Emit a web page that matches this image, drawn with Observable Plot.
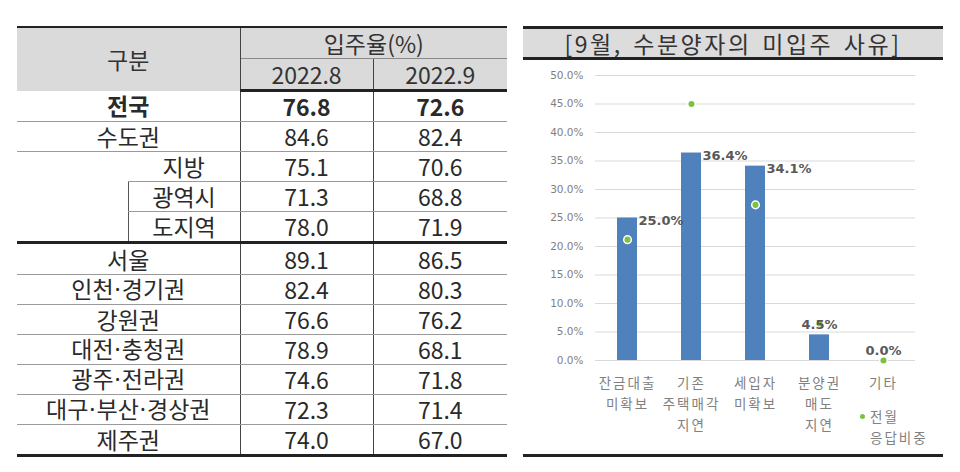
<!DOCTYPE html>
<html>
<head>
<meta charset="utf-8">
<script src="https://cdn.jsdelivr.net/npm/d3@7"></script>
<script src="https://cdn.jsdelivr.net/npm/@observablehq/plot@0.6"></script>
<style>
  html, body { margin: 0; padding: 0; background: #fff; }
  #wrap { position: relative; width: 960px; height: 472px; overflow: hidden; background: #fff; }
  #tbl {
    position: absolute; left: 17px; top: 26px; width: 490px;
    border-collapse: collapse; table-layout: fixed;
    font-family: "Noto Sans CJK KR", "Noto Sans", sans-serif; font-size: 23px; color: #2a2a2a;
  }
  #tbl td, #tbl th { padding: 0; text-align: center; vertical-align: middle; line-height: 1; font-weight: normal; }
  #tbl thead th { background: #dadada; color: #333; height: 30px; }
  #tbl thead tr:first-child th { border-top: 2.5px solid #222; }
  #tbl thead tr:last-child th { border-bottom: 3px solid #222; }
  #tbl th.years { border-top: 1.5px solid #8a8a8a; }
  #tbl .vl { border-left: 1px solid #444; }
  #tbl tbody td { height: 29.1px; border-bottom: 1.5px solid #9a9a9a; }
  #tbl tbody tr.bold td { font-weight: bold; }
  #tbl tbody tr.sep td { border-top: 3px solid #222; }
  #tbl tbody tr:last-child td { border-bottom: 3.5px solid #222; }
  #tbl td.sub { border-left: 1px solid #555; }
  #tbl td.nol { border-left: none; }
  #tbl .md { font-family: "Noto Sans", sans-serif; margin: 0 1px; }
  #title {
    position: absolute; left: 523px; top: 26px; width: 420px; height: 28px;
    background: #dcdcdc; border-top: 3px solid #222; border-bottom: 3px solid #222;
    font-family: "Noto Sans CJK KR", sans-serif; font-size: 23px; letter-spacing: 2.5px; word-spacing: 3px;
    color: #333; text-align: center; line-height: 28px;
  }
  #chart { position: absolute; left: 523px; top: 60px; }
  #chart svg { overflow: visible; }
  #chart g[aria-label="x-axis tick label"] text { letter-spacing: 2px; }
  #legend {
    position: absolute; left: 870px; top: 406px; line-height: 21px;
    font-family: "Noto Sans CJK KR", sans-serif; font-size: 13.5px; letter-spacing: 2px; color: #808080;
  }
  #legend .ldot { position: absolute; left: -10px; top: 8px; width: 5px; height: 5px; border-radius: 50%; background: #7dc142; }
  #rule { position: absolute; left: 523px; top: 454px; width: 420px; height: 0; border-top: 3px solid #222; }
</style>
</head>
<body>
<div id="wrap">
  <table id="tbl"></table>
  <div id="title"></div>
  <div id="chart"></div>
  <div id="legend"><span class="ldot"></span><span id="legtext"></span></div>
  <div id="rule"></div>
</div>
<script>
// ---------- table data ----------
const tableHeader = ["구분", "입주율(%)"];
const periods = ["2022.8", "2022.9"];
const regions = ["전국", "수도권", "지방", "광역시", "도지역", "서울", "인천·경기권", "강원권", "대전·충청권", "광주·전라권", "대구·부산·경상권", "제주권"];
const rateAug = [76.8, 84.6, 75.1, 71.3, 78.0, 89.1, 82.4, 76.6, 78.9, 74.6, 72.3, 74.0];
const rateSep = [72.6, 82.4, 70.6, 68.8, 71.9, 86.5, 80.3, 76.2, 68.1, 71.8, 71.4, 67.0];

// ---------- chart data ----------
const chartTitle = "[9월, 수분양자의 미입주 사유]";
const reasons = ["잔금대출\n미확보", "기존\n주택매각\n지연", "세입자\n미확보", "분양권\n매도\n지연", "기타"];
const shareSep = [0.250, 0.364, 0.341, 0.045, 0.000];   // 9월 (bars)
const shareAug = [0.212, 0.450, 0.273, 0.065, 0.000];   // 전월 응답비중 (dots)
const yTicks = [0, 0.05, 0.10, 0.15, 0.20, 0.25, 0.30, 0.35, 0.40, 0.45, 0.50];
const legendLabel = "전월\n응답비중";

// ---------- build table ----------
const tbl = document.getElementById("tbl");
const f1 = v => v.toFixed(1);
const label = r => r.split("·").join('<span class="md">·</span>');
let html = `<colgroup><col style="width:111px"><col style="width:112px"><col style="width:133px"><col style="width:134px"></colgroup>`;
html += `<thead><tr><th colspan="2" rowspan="2">${tableHeader[0]}</th><th colspan="2" class="vl">${tableHeader[1]}</th></tr>`;
html += `<tr><th class="vl years">${periods[0]}</th><th class="vl years">${periods[1]}</th></tr></thead><tbody>`;
regions.forEach((r, i) => {
  const cls = [];
  if (i === 0) cls.push("bold");
  if (i === 5) cls.push("sep");
  const vals = `<td class="vl">${f1(rateAug[i])}</td><td class="vl">${f1(rateSep[i])}</td>`;
  if (i === 2) {
    html += `<tr><td rowspan="3" style="border-bottom:none"></td><td class="nol">${label(r)}</td>${vals}</tr>`;
  } else if (i === 3 || i === 4) {
    html += `<tr><td class="sub">${label(r)}</td>${vals}</tr>`;
  } else {
    html += `<tr class="${cls.join(" ")}"><td colspan="2">${label(r)}</td>${vals}</tr>`;
  }
});
html += `</tbody>`;
tbl.innerHTML = html;

document.getElementById("title").textContent = chartTitle;
document.getElementById("legtext").innerHTML = legendLabel.replace("\n", "<br>");

// ---------- chart ----------
const data = reasons.map((r, i) => ({ reason: r, sep: shareSep[i], aug: shareAug[i], i }));
const pct = d3.format(".1%");

const chart = Plot.plot({
  width: 420,
  height: 395,
  marginLeft: 72,
  marginRight: 28,
  marginTop: 15,
  marginBottom: 95,
  style: { background: "transparent", fontFamily: "DejaVu Sans, sans-serif" },
  x: { domain: reasons, paddingInner: 0.6875, paddingOuter: 0.34375, label: null },
  y: { domain: [0, 0.5], label: null },
  marks: [
    Plot.gridY(yTicks, { stroke: "#d9d9d9", strokeOpacity: 1, strokeWidth: 1 }),
    Plot.axisY(yTicks, { tickSize: 0, tickPadding: 12, tickFormat: pct, fontSize: 10.5, fill: "#7f7f7f", label: null }),
    Plot.axisX({ tickSize: 0, tickPadding: 13, fontSize: 13.5, lineHeight: 1.55, fill: "#808080",
                 fontFamily: "Noto Sans CJK KR, sans-serif", label: null }),
    Plot.barY(data, { x: "reason", y: "sep", fill: "#4f81bd" }),
    Plot.dot(data, { x: "reason", y: "aug", r: 3.8, fill: "#7dc142", stroke: "#ffffff", strokeWidth: 1.5 }),
    Plot.text(data.filter(d => d.i < 3), { x: "reason", y: "sep", text: d => pct(d.sep),
      textAnchor: "start", dx: 11, dy: 3, fontSize: 13, fontWeight: "bold", fill: "#595959" }),
    Plot.text(data.filter(d => d.i >= 3), { x: "reason", y: "sep", text: d => pct(d.sep),
      textAnchor: "middle", dy: -10, fontSize: 13, fontWeight: "bold", fill: "#595959" })
  ]
});
document.getElementById("chart").appendChild(chart);
</script>
</body>
</html>
